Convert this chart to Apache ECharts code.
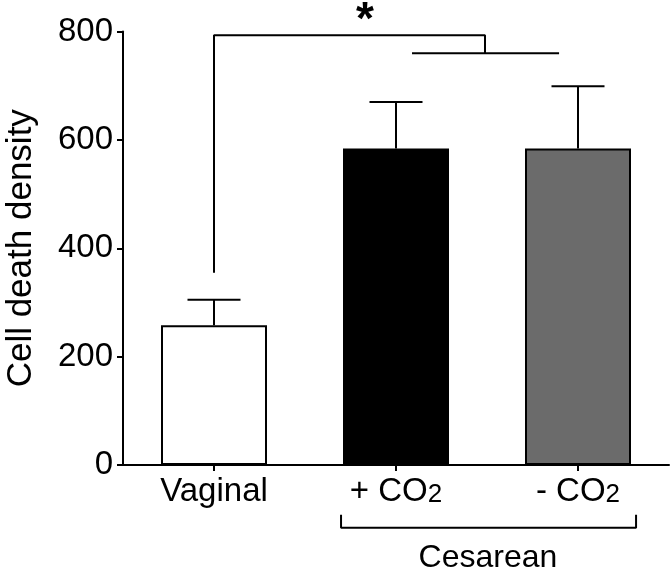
<!DOCTYPE html>
<html>
<head>
<meta charset="utf-8">
<script src="https://cdn.jsdelivr.net/npm/echarts@6/dist/echarts.min.js"></script>
<style>
html,body{margin:0;padding:0;background:#fff;}
#chart{width:672px;height:571px;}
</style>
</head>
<body>
<div id="chart"></div>
<script>
// ---- data ----
var categories = ['Vaginal', '+ CO2', '- CO2'];
var means = [258, 584, 584];
var upperErr = [305, 670, 699];
var barColors = ['#ffffff', '#000000', '#6b6b6b'];
var yTicks = [0, 200, 400, 600, 800];
var yAxisName = 'Cell death density';
var groupLabel = 'Cesarean';
var sigMark = '*';
// bracket annotation points in [category position, value]
var sigBracketMain = [[0, 355], [0, 793], [1.489, 793], [1.489, 760]];
var sigBracketGroup = [[1.088, 760], [1.896, 760]];
var groupBracket = [[0.698, -92], [0.698, -116], [2.319, -116], [2.319, -92]];
var groupLabelPos = [1.505, -172];
var sigMarkPos = [0.83, 818];

var FONT = 'Liberation Sans, Arial, Helvetica, sans-serif';
var chart = echarts.init(document.getElementById('chart'), null, {renderer: 'canvas'});

var barData = means.map(function (v, i) {
  return {value: v, itemStyle: {color: barColors[i], borderColor: '#000', borderWidth: 2}};
});
var errData = means.map(function (v, i) { return [i, v, upperErr[i]]; });

function lineSeries(pts) {
  return {
    type: 'line', xAxisIndex: 1, yAxisIndex: 0, data: pts, symbol: 'none',
    clip: false, silent: true, animation: false,
    lineStyle: {color: '#000', width: 2}, z: 5
  };
}

var option = {
  animation: false,
  backgroundColor: '#fff',
  grid: {left: 123, right: 3, top: 31.5, bottom: 106, containLabel: false, outerBoundsMode: 'none'},
  xAxis: [{
    type: 'category', data: categories,
    axisLine: {lineStyle: {color: '#000', width: 2}},
    axisTick: {show: true, alignWithLabel: true, length: 6, lineStyle: {color: '#000', width: 2}},
    axisLabel: {
      interval: 0,
      color: '#000', fontFamily: FONT, fontSize: 33, margin: 10,
      formatter: function (v) { return v.replace('CO2', 'CO{sub|2}'); },
      rich: {sub: {fontFamily: FONT, fontSize: 26, color: '#000', verticalAlign: 'bottom'}}
    }
  }, {
    type: 'value', min: -0.5, max: 2.5, show: false
  }],
  yAxis: {
    type: 'value', min: 0, max: 800, interval: 200,
    name: yAxisName, nameLocation: 'middle', nameGap: 84, nameRotate: 90,
    nameTextStyle: {color: '#000', fontFamily: FONT, fontSize: 35},
    axisLine: {show: true, onZero: false, lineStyle: {color: '#000', width: 2}},
    axisTick: {show: true, length: 6, lineStyle: {color: '#000', width: 2}},
    axisLabel: {color: '#000', fontFamily: FONT, fontSize: 33, margin: 10,
      formatter: function (v) { return yTicks.indexOf(v) >= 0 ? String(v) : ''; }},
    splitLine: {show: false}
  },
  series: [{
    type: 'bar', data: barData, barWidth: 106, z: 2
  }, {
    type: 'custom', data: errData, z: 3, clip: false,
    renderItem: function (params, api) {
      var base = api.coord([api.value(0), api.value(1)]);
      var top = api.coord([api.value(0), api.value(2)]);
      var hw = 26.5;
      return {
        type: 'group',
        children: [{
          type: 'line', shape: {x1: base[0], y1: base[1], x2: top[0], y2: top[1]},
          style: {stroke: '#000', lineWidth: 2}
        }, {
          type: 'line', shape: {x1: top[0] - hw, y1: top[1], x2: top[0] + hw, y2: top[1]},
          style: {stroke: '#000', lineWidth: 2}
        }]
      };
    }
  },
  lineSeries(sigBracketMain),
  lineSeries(sigBracketGroup),
  lineSeries(groupBracket),
  {
    type: 'scatter', xAxisIndex: 1, yAxisIndex: 0, symbolSize: 1, clip: false,
    itemStyle: {color: 'rgba(0,0,0,0)', opacity: 1},
    data: [{value: groupLabelPos, name: groupLabel, label: {fontSize: 32, fontWeight: 'normal'}},
           {value: sigMarkPos, name: sigMark, label: {fontSize: 46, fontWeight: 'bold'}}],
    label: {show: true, position: 'inside', color: '#000', opacity: 1, fontFamily: FONT,
      formatter: function (p) { return p.name; }}
  }]
};
chart.setOption(option);
</script>
</body>
</html>
